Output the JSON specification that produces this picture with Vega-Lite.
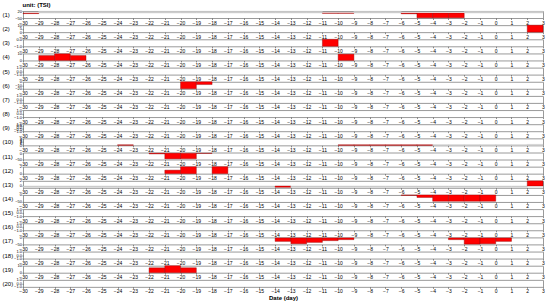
{
  "$schema": "https://vega.github.io/schema/vega-lite/v6.json",
  "padding": {"left": 1, "top": 1, "right": 6, "bottom": 0},
  "background": "white",
  "bounds": "flush",
  "spacing": 7.15,
  "title": {"text": "unit: (TSI)", "anchor": "start", "frame": "bounds", "dx": 21, "fontSize": 6, "fontWeight": "bold", "font": "Liberation Sans", "offset": 1},
  "data": {"values": [
    {"p": 1, "d0": -30, "d1": -29, "v": -6, "s": "sig"},
    {"p": 1, "d0": -29, "d1": -28, "v": 18, "s": "ns"},
    {"p": 1, "d0": -28, "d1": -27, "v": 18, "s": "ns"},
    {"p": 1, "d0": -27, "d1": -26, "v": 18, "s": "ns"},
    {"p": 1, "d0": -26, "d1": -25, "v": 18, "s": "ns"},
    {"p": 1, "d0": -25, "d1": -24, "v": 18, "s": "ns"},
    {"p": 1, "d0": -24, "d1": -23, "v": 18, "s": "ns"},
    {"p": 1, "d0": -23, "d1": -22, "v": 18, "s": "ns"},
    {"p": 1, "d0": -22, "d1": -21, "v": 18, "s": "ns"},
    {"p": 1, "d0": -21, "d1": -20, "v": 18, "s": "ns"},
    {"p": 1, "d0": -20, "d1": -19, "v": 18, "s": "ns"},
    {"p": 1, "d0": -19, "d1": -18, "v": 18, "s": "ns"},
    {"p": 1, "d0": -18, "d1": -17, "v": 18, "s": "ns"},
    {"p": 1, "d0": -17, "d1": -16, "v": 18, "s": "ns"},
    {"p": 1, "d0": -16, "d1": -15, "v": 18, "s": "ns"},
    {"p": 1, "d0": -15, "d1": -14, "v": 18, "s": "ns"},
    {"p": 1, "d0": -14, "d1": -13, "v": 18, "s": "ns"},
    {"p": 1, "d0": -13, "d1": -12, "v": 18, "s": "ns"},
    {"p": 1, "d0": -12, "d1": -11, "v": 18, "s": "ns"},
    {"p": 1, "d0": -11, "d1": -10, "v": -3, "s": "sig"},
    {"p": 1, "d0": -10, "d1": -9, "v": -3, "s": "sig"},
    {"p": 1, "d0": -9, "d1": -8, "v": 18, "s": "ns"},
    {"p": 1, "d0": -8, "d1": -7, "v": 18, "s": "ns"},
    {"p": 1, "d0": -7, "d1": -6, "v": 18, "s": "ns"},
    {"p": 1, "d0": -6, "d1": -5, "v": -8, "s": "sig"},
    {"p": 1, "d0": -5, "d1": -4, "v": -48, "s": "sig"},
    {"p": 1, "d0": -4, "d1": -3, "v": -48, "s": "sig"},
    {"p": 1, "d0": -3, "d1": -2, "v": -48, "s": "sig"},
    {"p": 1, "d0": -2, "d1": -1, "v": 18, "s": "ns"},
    {"p": 1, "d0": -1, "d1": 0, "v": 18, "s": "ns"},
    {"p": 1, "d0": 0, "d1": 1, "v": 18, "s": "ns"},
    {"p": 1, "d0": 1, "d1": 2, "v": 18, "s": "ns"},
    {"p": 1, "d0": 2, "d1": 3, "v": 18, "s": "ns"},
    {"p": 2, "d0": 2, "d1": 3, "v": 10, "s": "sig"},
    {"p": 3, "d0": -11, "d1": -10, "v": -1, "s": "sig"},
    {"p": 4, "d0": -29, "d1": -28, "v": 7, "s": "sig"},
    {"p": 4, "d0": -28, "d1": -27, "v": 9.5, "s": "sig"},
    {"p": 4, "d0": -27, "d1": -26, "v": 7, "s": "sig"},
    {"p": 4, "d0": -10, "d1": -9, "v": 9, "s": "sig"},
    {"p": 6, "d0": -20, "d1": -19, "v": -20, "s": "sig"},
    {"p": 6, "d0": -19, "d1": -18, "v": -8, "s": "sig"},
    {"p": 10, "d0": -24, "d1": -23, "v": 0.4, "s": "sig"},
    {"p": 10, "d0": -10, "d1": -9, "v": 0.4, "s": "sig"},
    {"p": 10, "d0": -9, "d1": -8, "v": 0.4, "s": "sig"},
    {"p": 10, "d0": -8, "d1": -7, "v": 0.4, "s": "sig"},
    {"p": 10, "d0": -7, "d1": -6, "v": 0.4, "s": "sig"},
    {"p": 10, "d0": -6, "d1": -5, "v": 0.4, "s": "sig"},
    {"p": 10, "d0": -5, "d1": -4, "v": 0.4, "s": "sig"},
    {"p": 10, "d0": -4, "d1": -3, "v": 0.5, "s": "ns"},
    {"p": 10, "d0": -3, "d1": -2, "v": 0.5, "s": "ns"},
    {"p": 10, "d0": -2, "d1": -1, "v": 0.5, "s": "ns"},
    {"p": 10, "d0": -1, "d1": 0, "v": 0.5, "s": "ns"},
    {"p": 10, "d0": 0, "d1": 1, "v": 0.5, "s": "ns"},
    {"p": 10, "d0": 1, "d1": 2, "v": 0.5, "s": "ns"},
    {"p": 10, "d0": 2, "d1": 3, "v": 0.7, "s": "ns"},
    {"p": 11, "d0": -22, "d1": -21, "v": -6, "s": "sig"},
    {"p": 11, "d0": -21, "d1": -20, "v": -45, "s": "sig"},
    {"p": 11, "d0": -20, "d1": -19, "v": -45, "s": "sig"},
    {"p": 11, "d0": -19, "d1": -18, "v": -3, "s": "sig"},
    {"p": 12, "d0": -21, "d1": -20, "v": 1, "s": "sig"},
    {"p": 12, "d0": -20, "d1": -19, "v": 2, "s": "sig"},
    {"p": 12, "d0": -18, "d1": -17, "v": 2, "s": "sig"},
    {"p": 13, "d0": -30, "d1": -29, "v": -0.5, "s": "ns"},
    {"p": 13, "d0": -29, "d1": -28, "v": -0.5, "s": "ns"},
    {"p": 13, "d0": -28, "d1": -27, "v": -0.5, "s": "ns"},
    {"p": 13, "d0": -27, "d1": -26, "v": -0.5, "s": "ns"},
    {"p": 13, "d0": -26, "d1": -25, "v": -0.5, "s": "ns"},
    {"p": 13, "d0": -25, "d1": -24, "v": -0.5, "s": "ns"},
    {"p": 13, "d0": -24, "d1": -23, "v": -0.5, "s": "ns"},
    {"p": 13, "d0": -23, "d1": -22, "v": -0.5, "s": "ns"},
    {"p": 13, "d0": -22, "d1": -21, "v": -0.5, "s": "ns"},
    {"p": 13, "d0": -21, "d1": -20, "v": -0.5, "s": "ns"},
    {"p": 13, "d0": -20, "d1": -19, "v": -0.5, "s": "ns"},
    {"p": 13, "d0": -19, "d1": -18, "v": -0.5, "s": "ns"},
    {"p": 13, "d0": -18, "d1": -17, "v": -0.5, "s": "ns"},
    {"p": 13, "d0": -17, "d1": -16, "v": -0.5, "s": "ns"},
    {"p": 13, "d0": -16, "d1": -15, "v": -0.5, "s": "ns"},
    {"p": 13, "d0": -15, "d1": -14, "v": -0.5, "s": "ns"},
    {"p": 13, "d0": -14, "d1": -13, "v": -0.5, "s": "sig"},
    {"p": 13, "d0": -13, "d1": -12, "v": -0.5, "s": "ns"},
    {"p": 13, "d0": -12, "d1": -11, "v": -0.5, "s": "ns"},
    {"p": 13, "d0": -11, "d1": -10, "v": -0.5, "s": "ns"},
    {"p": 13, "d0": -10, "d1": -9, "v": -0.5, "s": "ns"},
    {"p": 13, "d0": -9, "d1": -8, "v": -0.5, "s": "ns"},
    {"p": 13, "d0": -8, "d1": -7, "v": -0.5, "s": "ns"},
    {"p": 13, "d0": -7, "d1": -6, "v": -0.5, "s": "ns"},
    {"p": 13, "d0": -6, "d1": -5, "v": -0.5, "s": "ns"},
    {"p": 13, "d0": -5, "d1": -4, "v": -0.5, "s": "ns"},
    {"p": 13, "d0": -4, "d1": -3, "v": -0.5, "s": "ns"},
    {"p": 13, "d0": -3, "d1": -2, "v": -0.5, "s": "ns"},
    {"p": 13, "d0": -2, "d1": -1, "v": -0.5, "s": "ns"},
    {"p": 13, "d0": -1, "d1": 0, "v": -0.5, "s": "ns"},
    {"p": 13, "d0": 0, "d1": 1, "v": -0.5, "s": "ns"},
    {"p": 13, "d0": 1, "d1": 2, "v": -0.5, "s": "ns"},
    {"p": 13, "d0": 2, "d1": 3, "v": 2, "s": "sig"},
    {"p": 14, "d0": -6, "d1": -5, "v": -3, "s": "sig"},
    {"p": 14, "d0": -5, "d1": -4, "v": -18, "s": "sig"},
    {"p": 14, "d0": -4, "d1": -3, "v": -45, "s": "sig"},
    {"p": 14, "d0": -3, "d1": -2, "v": -45, "s": "sig"},
    {"p": 14, "d0": -2, "d1": -1, "v": -45, "s": "sig"},
    {"p": 14, "d0": -1, "d1": 0, "v": -45, "s": "sig"},
    {"p": 17, "d0": -14, "d1": -13, "v": -28, "s": "sig"},
    {"p": 17, "d0": -13, "d1": -12, "v": -47, "s": "sig"},
    {"p": 17, "d0": -12, "d1": -11, "v": -36, "s": "sig"},
    {"p": 17, "d0": -11, "d1": -10, "v": -22, "s": "sig"},
    {"p": 17, "d0": -10, "d1": -9, "v": -14, "s": "sig"},
    {"p": 17, "d0": -3, "d1": -2, "v": -14, "s": "sig"},
    {"p": 17, "d0": -2, "d1": -1, "v": -50, "s": "sig"},
    {"p": 17, "d0": -1, "d1": 0, "v": -47, "s": "sig"},
    {"p": 17, "d0": 0, "d1": 1, "v": -28, "s": "sig"},
    {"p": 19, "d0": -22, "d1": -21, "v": 7, "s": "sig"},
    {"p": 19, "d0": -21, "d1": -20, "v": 10, "s": "sig"},
    {"p": 19, "d0": -20, "d1": -19, "v": 7, "s": "sig"}
  ]},
  "config": {
    "font": "Liberation Sans",
    "view": {"stroke": "#9a9a9a", "strokeWidth": 1},
    "bar": {"strokeWidth": 0.4},
    "axis": {"labelFontSize": 5, "labelFont": "Liberation Sans", "labelColor": "#000", "tickSize": 1.5, "tickColor": "#444", "tickWidth": 0.6, "labelPadding": 0.5, "domain": false, "grid": false},
    "axisX": {"tickCount": 33, "labelFlush": false, "labelOverlap": false, "labelBound": false},
    "axisY": {"titleAngle": 0, "titleAlign": "left", "titleBaseline": "middle", "titleX": -21, "titleY": 3.5, "titleFontSize": 6, "titleFontWeight": "normal", "titleFont": "Liberation Sans", "labelFontSize": 4, "labelOverlap": false, "labelFlush": false, "tickSize": 1}
  },
  "vconcat": [
    {"width": 520, "height": 7, "transform": [{"filter": "datum.p == 1"}], "mark": "bar",
     "encoding": {"x": {"field": "d0", "type": "quantitative", "scale": {"domain": [-30, 3], "nice": false, "zero": false}, "axis": {"title": null}}, "x2": {"field": "d1"},
       "y": {"field": "v", "type": "quantitative", "scale": {"domain": [-50, 20], "nice": false}, "axis": {"values": [20, -50], "title": "(1)"}}, "y2": {"datum": 0},
       "fill": {"field": "s", "type": "nominal", "scale": {"domain": ["sig", "ns"], "range": ["#ff0000", "#cccccc"]}, "legend": null},
       "stroke": {"field": "s", "type": "nominal", "scale": {"domain": ["sig", "ns"], "range": ["#8b0000", "#cccccc"]}, "legend": null}}},
    {"width": 520, "height": 7, "transform": [{"filter": "datum.p == 2"}], "mark": "bar",
     "encoding": {"x": {"field": "d0", "type": "quantitative", "scale": {"domain": [-30, 3], "nice": false, "zero": false}, "axis": {"title": null}}, "x2": {"field": "d1"},
       "y": {"field": "v", "type": "quantitative", "scale": {"domain": [0, 10], "nice": false}, "axis": {"values": [10, 5, 0], "title": "(2)"}}, "y2": {"datum": 0},
       "fill": {"field": "s", "type": "nominal", "scale": {"domain": ["sig", "ns"], "range": ["#ff0000", "#cccccc"]}, "legend": null},
       "stroke": {"field": "s", "type": "nominal", "scale": {"domain": ["sig", "ns"], "range": ["#8b0000", "#cccccc"]}, "legend": null}}},
    {"width": 520, "height": 7, "transform": [{"filter": "datum.p == 3"}], "mark": "bar",
     "encoding": {"x": {"field": "d0", "type": "quantitative", "scale": {"domain": [-30, 3], "nice": false, "zero": false}, "axis": {"title": null}}, "x2": {"field": "d1"},
       "y": {"field": "v", "type": "quantitative", "scale": {"domain": [-1, 0], "nice": false}, "axis": {"values": [0, -1], "title": "(3)"}}, "y2": {"datum": 0},
       "fill": {"field": "s", "type": "nominal", "scale": {"domain": ["sig", "ns"], "range": ["#ff0000", "#cccccc"]}, "legend": null},
       "stroke": {"field": "s", "type": "nominal", "scale": {"domain": ["sig", "ns"], "range": ["#8b0000", "#cccccc"]}, "legend": null}}},
    {"width": 520, "height": 7, "transform": [{"filter": "datum.p == 4"}], "mark": "bar",
     "encoding": {"x": {"field": "d0", "type": "quantitative", "scale": {"domain": [-30, 3], "nice": false, "zero": false}, "axis": {"title": null}}, "x2": {"field": "d1"},
       "y": {"field": "v", "type": "quantitative", "scale": {"domain": [0, 10], "nice": false}, "axis": {"values": [10, 0], "title": "(4)"}}, "y2": {"datum": 0},
       "fill": {"field": "s", "type": "nominal", "scale": {"domain": ["sig", "ns"], "range": ["#ff0000", "#cccccc"]}, "legend": null},
       "stroke": {"field": "s", "type": "nominal", "scale": {"domain": ["sig", "ns"], "range": ["#8b0000", "#cccccc"]}, "legend": null}}},
    {"width": 520, "height": 7, "transform": [{"filter": "datum.p == 5"}], "mark": "bar",
     "encoding": {"x": {"field": "d0", "type": "quantitative", "scale": {"domain": [-30, 3], "nice": false, "zero": false}, "axis": {"title": null}}, "x2": {"field": "d1"},
       "y": {"field": "v", "type": "quantitative", "scale": {"domain": [-1, 1], "nice": false}, "axis": {"values": [1, 0, -1], "title": "(5)"}}, "y2": {"datum": 0},
       "fill": {"field": "s", "type": "nominal", "scale": {"domain": ["sig", "ns"], "range": ["#ff0000", "#cccccc"]}, "legend": null},
       "stroke": {"field": "s", "type": "nominal", "scale": {"domain": ["sig", "ns"], "range": ["#8b0000", "#cccccc"]}, "legend": null}}},
    {"width": 520, "height": 7, "transform": [{"filter": "datum.p == 6"}], "mark": "bar",
     "encoding": {"x": {"field": "d0", "type": "quantitative", "scale": {"domain": [-30, 3], "nice": false, "zero": false}, "axis": {"title": null}}, "x2": {"field": "d1"},
       "y": {"field": "v", "type": "quantitative", "scale": {"domain": [-20, 0], "nice": false}, "axis": {"values": [0, -10, -20], "title": "(6)"}}, "y2": {"datum": 0},
       "fill": {"field": "s", "type": "nominal", "scale": {"domain": ["sig", "ns"], "range": ["#ff0000", "#cccccc"]}, "legend": null},
       "stroke": {"field": "s", "type": "nominal", "scale": {"domain": ["sig", "ns"], "range": ["#8b0000", "#cccccc"]}, "legend": null}}},
    {"width": 520, "height": 7, "transform": [{"filter": "datum.p == 7"}], "mark": "bar",
     "encoding": {"x": {"field": "d0", "type": "quantitative", "scale": {"domain": [-30, 3], "nice": false, "zero": false}, "axis": {"title": null}}, "x2": {"field": "d1"},
       "y": {"field": "v", "type": "quantitative", "scale": {"domain": [-1, 1], "nice": false}, "axis": {"values": [1, 0, -1], "title": "(7)"}}, "y2": {"datum": 0},
       "fill": {"field": "s", "type": "nominal", "scale": {"domain": ["sig", "ns"], "range": ["#ff0000", "#cccccc"]}, "legend": null},
       "stroke": {"field": "s", "type": "nominal", "scale": {"domain": ["sig", "ns"], "range": ["#8b0000", "#cccccc"]}, "legend": null}}},
    {"width": 520, "height": 7, "transform": [{"filter": "datum.p == 8"}], "mark": "bar",
     "encoding": {"x": {"field": "d0", "type": "quantitative", "scale": {"domain": [-30, 3], "nice": false, "zero": false}, "axis": {"title": null}}, "x2": {"field": "d1"},
       "y": {"field": "v", "type": "quantitative", "scale": {"domain": [-1, 1], "nice": false}, "axis": {"values": [1, 0, -1], "title": "(8)"}}, "y2": {"datum": 0},
       "fill": {"field": "s", "type": "nominal", "scale": {"domain": ["sig", "ns"], "range": ["#ff0000", "#cccccc"]}, "legend": null},
       "stroke": {"field": "s", "type": "nominal", "scale": {"domain": ["sig", "ns"], "range": ["#8b0000", "#cccccc"]}, "legend": null}}},
    {"width": 520, "height": 7, "transform": [{"filter": "datum.p == 9"}], "mark": "bar",
     "encoding": {"x": {"field": "d0", "type": "quantitative", "scale": {"domain": [-30, 3], "nice": false, "zero": false}, "axis": {"title": null}}, "x2": {"field": "d1"},
       "y": {"field": "v", "type": "quantitative", "scale": {"domain": [-1, 1], "nice": false}, "axis": {"values": [1, 0.5, 0, -0.5, -1], "title": "(9)"}}, "y2": {"datum": 0},
       "fill": {"field": "s", "type": "nominal", "scale": {"domain": ["sig", "ns"], "range": ["#ff0000", "#cccccc"]}, "legend": null},
       "stroke": {"field": "s", "type": "nominal", "scale": {"domain": ["sig", "ns"], "range": ["#8b0000", "#cccccc"]}, "legend": null}}},
    {"width": 520, "height": 7, "transform": [{"filter": "datum.p == 10"}], "mark": "bar",
     "encoding": {"x": {"field": "d0", "type": "quantitative", "scale": {"domain": [-30, 3], "nice": false, "zero": false}, "axis": {"title": null}}, "x2": {"field": "d1"},
       "y": {"field": "v", "type": "quantitative", "scale": {"domain": [0, 5], "nice": false}, "axis": {"values": [5, 4, 3, 2, 1, 0], "title": "(10)"}}, "y2": {"datum": 0},
       "fill": {"field": "s", "type": "nominal", "scale": {"domain": ["sig", "ns"], "range": ["#c00000", "#bbbbbb"]}, "legend": null},
       "stroke": {"field": "s", "type": "nominal", "scale": {"domain": ["sig", "ns"], "range": ["#8b0000", "#bbbbbb"]}, "legend": null}}},
    {"width": 520, "height": 7, "transform": [{"filter": "datum.p == 11"}], "mark": "bar",
     "encoding": {"x": {"field": "d0", "type": "quantitative", "scale": {"domain": [-30, 3], "nice": false, "zero": false}, "axis": {"title": null}}, "x2": {"field": "d1"},
       "y": {"field": "v", "type": "quantitative", "scale": {"domain": [-50, 5], "nice": false}, "axis": {"values": [0, -50], "title": "(11)"}}, "y2": {"datum": 0},
       "fill": {"field": "s", "type": "nominal", "scale": {"domain": ["sig", "ns"], "range": ["#ff0000", "#cccccc"]}, "legend": null},
       "stroke": {"field": "s", "type": "nominal", "scale": {"domain": ["sig", "ns"], "range": ["#8b0000", "#cccccc"]}, "legend": null}}},
    {"width": 520, "height": 7, "transform": [{"filter": "datum.p == 12"}], "mark": "bar",
     "encoding": {"x": {"field": "d0", "type": "quantitative", "scale": {"domain": [-30, 3], "nice": false, "zero": false}, "axis": {"title": null}}, "x2": {"field": "d1"},
       "y": {"field": "v", "type": "quantitative", "scale": {"domain": [0, 2], "nice": false}, "axis": {"values": [2, 0], "title": "(12)"}}, "y2": {"datum": 0},
       "fill": {"field": "s", "type": "nominal", "scale": {"domain": ["sig", "ns"], "range": ["#ff0000", "#cccccc"]}, "legend": null},
       "stroke": {"field": "s", "type": "nominal", "scale": {"domain": ["sig", "ns"], "range": ["#8b0000", "#cccccc"]}, "legend": null}}},
    {"width": 520, "height": 7, "transform": [{"filter": "datum.p == 13"}], "mark": "bar",
     "encoding": {"x": {"field": "d0", "type": "quantitative", "scale": {"domain": [-30, 3], "nice": false, "zero": false}, "axis": {"title": null}}, "x2": {"field": "d1"},
       "y": {"field": "v", "type": "quantitative", "scale": {"domain": [-0.7, 2], "nice": false}, "axis": {"values": [2, 0], "title": "(13)"}}, "y2": {"datum": 0},
       "fill": {"field": "s", "type": "nominal", "scale": {"domain": ["sig", "ns"], "range": ["#ff0000", "#cccccc"]}, "legend": null},
       "stroke": {"field": "s", "type": "nominal", "scale": {"domain": ["sig", "ns"], "range": ["#8b0000", "#cccccc"]}, "legend": null}}},
    {"width": 520, "height": 7, "transform": [{"filter": "datum.p == 14"}], "mark": "bar",
     "encoding": {"x": {"field": "d0", "type": "quantitative", "scale": {"domain": [-30, 3], "nice": false, "zero": false}, "axis": {"title": null}}, "x2": {"field": "d1"},
       "y": {"field": "v", "type": "quantitative", "scale": {"domain": [-50, 0], "nice": false}, "axis": {"values": [0, -50], "title": "(14)"}}, "y2": {"datum": 0},
       "fill": {"field": "s", "type": "nominal", "scale": {"domain": ["sig", "ns"], "range": ["#ff0000", "#cccccc"]}, "legend": null},
       "stroke": {"field": "s", "type": "nominal", "scale": {"domain": ["sig", "ns"], "range": ["#8b0000", "#cccccc"]}, "legend": null}}},
    {"width": 520, "height": 7, "transform": [{"filter": "datum.p == 15"}], "mark": "bar",
     "encoding": {"x": {"field": "d0", "type": "quantitative", "scale": {"domain": [-30, 3], "nice": false, "zero": false}, "axis": {"title": null}}, "x2": {"field": "d1"},
       "y": {"field": "v", "type": "quantitative", "scale": {"domain": [-1, 1], "nice": false}, "axis": {"values": [1, 0, -1], "title": "(15)"}}, "y2": {"datum": 0},
       "fill": {"field": "s", "type": "nominal", "scale": {"domain": ["sig", "ns"], "range": ["#ff0000", "#cccccc"]}, "legend": null},
       "stroke": {"field": "s", "type": "nominal", "scale": {"domain": ["sig", "ns"], "range": ["#8b0000", "#cccccc"]}, "legend": null}}},
    {"width": 520, "height": 7, "transform": [{"filter": "datum.p == 16"}], "mark": "bar",
     "encoding": {"x": {"field": "d0", "type": "quantitative", "scale": {"domain": [-30, 3], "nice": false, "zero": false}, "axis": {"title": null}}, "x2": {"field": "d1"},
       "y": {"field": "v", "type": "quantitative", "scale": {"domain": [-1, 1], "nice": false}, "axis": {"values": [1, 0, -1], "title": "(16)"}}, "y2": {"datum": 0},
       "fill": {"field": "s", "type": "nominal", "scale": {"domain": ["sig", "ns"], "range": ["#ff0000", "#cccccc"]}, "legend": null},
       "stroke": {"field": "s", "type": "nominal", "scale": {"domain": ["sig", "ns"], "range": ["#8b0000", "#cccccc"]}, "legend": null}}},
    {"width": 520, "height": 7, "transform": [{"filter": "datum.p == 17"}], "mark": "bar",
     "encoding": {"x": {"field": "d0", "type": "quantitative", "scale": {"domain": [-30, 3], "nice": false, "zero": false}, "axis": {"title": null}}, "x2": {"field": "d1"},
       "y": {"field": "v", "type": "quantitative", "scale": {"domain": [-52, 4], "nice": false}, "axis": {"values": [0, -50], "title": "(17)"}}, "y2": {"datum": 0},
       "fill": {"field": "s", "type": "nominal", "scale": {"domain": ["sig", "ns"], "range": ["#ff0000", "#cccccc"]}, "legend": null},
       "stroke": {"field": "s", "type": "nominal", "scale": {"domain": ["sig", "ns"], "range": ["#8b0000", "#cccccc"]}, "legend": null}}},
    {"width": 520, "height": 7, "transform": [{"filter": "datum.p == 18"}], "mark": "bar",
     "encoding": {"x": {"field": "d0", "type": "quantitative", "scale": {"domain": [-30, 3], "nice": false, "zero": false}, "axis": {"title": null}}, "x2": {"field": "d1"},
       "y": {"field": "v", "type": "quantitative", "scale": {"domain": [-1, 1], "nice": false}, "axis": {"values": [1, 0, -1], "title": "(18)"}}, "y2": {"datum": 0},
       "fill": {"field": "s", "type": "nominal", "scale": {"domain": ["sig", "ns"], "range": ["#ff0000", "#cccccc"]}, "legend": null},
       "stroke": {"field": "s", "type": "nominal", "scale": {"domain": ["sig", "ns"], "range": ["#8b0000", "#cccccc"]}, "legend": null}}},
    {"width": 520, "height": 7, "transform": [{"filter": "datum.p == 19"}], "mark": "bar",
     "encoding": {"x": {"field": "d0", "type": "quantitative", "scale": {"domain": [-30, 3], "nice": false, "zero": false}, "axis": {"title": null}}, "x2": {"field": "d1"},
       "y": {"field": "v", "type": "quantitative", "scale": {"domain": [0, 10], "nice": false}, "axis": {"values": [10, 0], "title": "(19)"}}, "y2": {"datum": 0},
       "fill": {"field": "s", "type": "nominal", "scale": {"domain": ["sig", "ns"], "range": ["#ff0000", "#cccccc"]}, "legend": null},
       "stroke": {"field": "s", "type": "nominal", "scale": {"domain": ["sig", "ns"], "range": ["#8b0000", "#cccccc"]}, "legend": null}}},
    {"width": 520, "height": 7, "transform": [{"filter": "datum.p == 20"}], "mark": "bar",
     "encoding": {"x": {"field": "d0", "type": "quantitative", "scale": {"domain": [-30, 3], "nice": false, "zero": false}, "axis": {"title": "Date (day)", "titleFontSize": 6, "titleFontWeight": "bold", "titlePadding": 1}}, "x2": {"field": "d1"},
       "y": {"field": "v", "type": "quantitative", "scale": {"domain": [-1, 1], "nice": false}, "axis": {"values": [1, 0, -1], "title": "(20)"}}, "y2": {"datum": 0},
       "fill": {"field": "s", "type": "nominal", "scale": {"domain": ["sig", "ns"], "range": ["#ff0000", "#cccccc"]}, "legend": null},
       "stroke": {"field": "s", "type": "nominal", "scale": {"domain": ["sig", "ns"], "range": ["#8b0000", "#cccccc"]}, "legend": null}}}
  ]
}
